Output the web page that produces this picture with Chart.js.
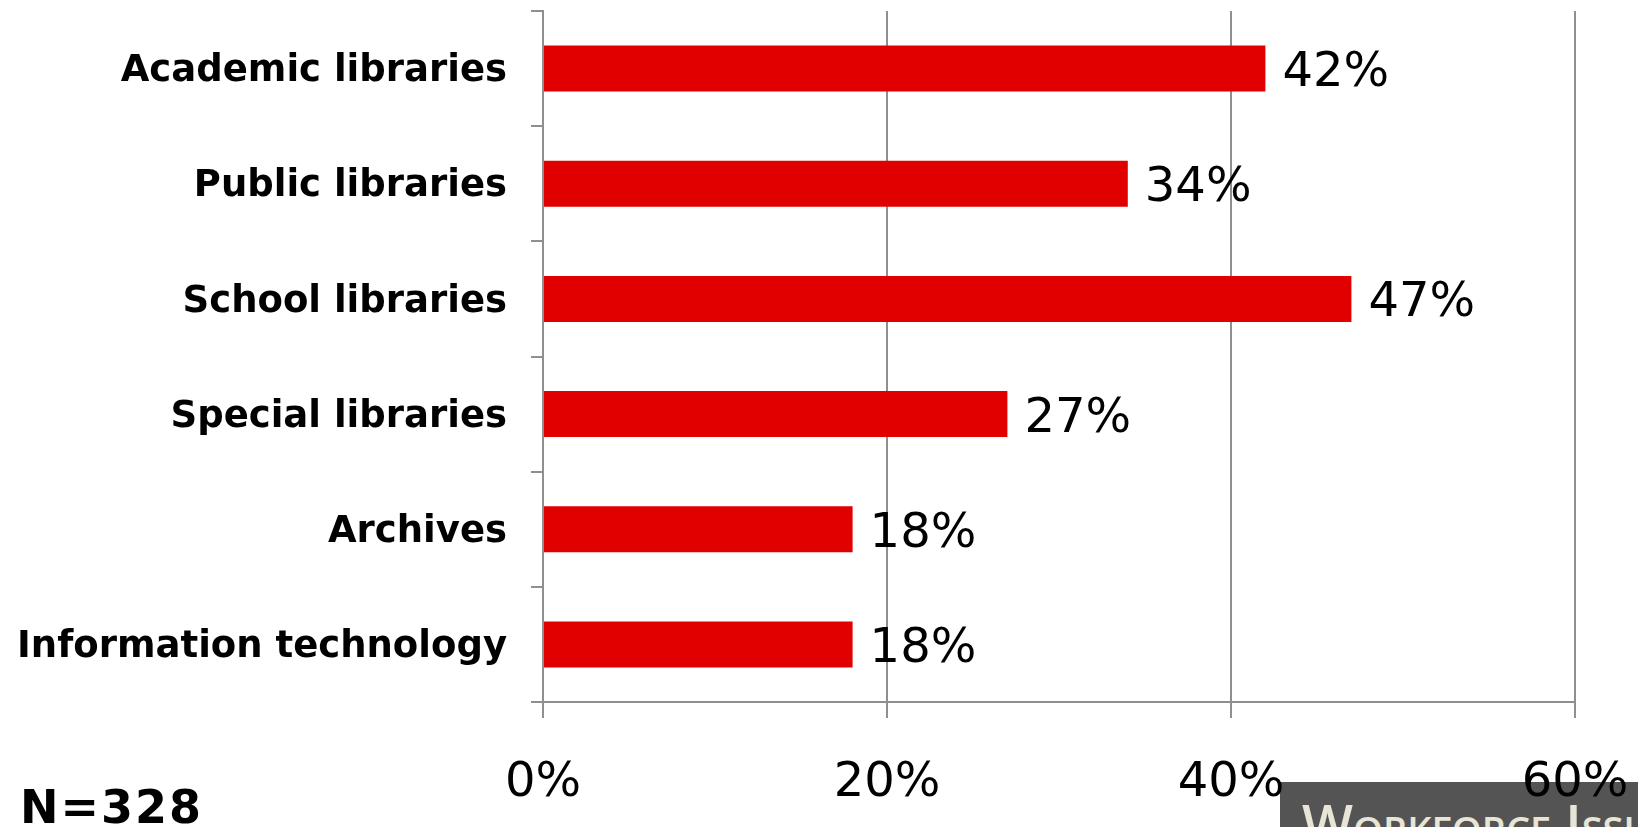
<!DOCTYPE html>
<html>
<head>
<meta charset="utf-8">
<script src="https://cdn.jsdelivr.net/npm/chart.js"></script>
<style>
  html, body { margin: 0; padding: 0; background: #fff; }
  #wrap { position: relative; width: 1638px; height: 827px; overflow: hidden; }
  #chart { position: absolute; left: 0; top: 0; z-index: 2; }
  #footerBox {
    position: absolute; left: 1280px; top: 782px; width: 358px; height: 45px;
    background: #545454; z-index: 1; overflow: hidden;
  }
  #footerBox span {
    position: absolute; left: 22px; top: 14px; color: #e8e4d6;
    font-family: "Open Sans", sans-serif; font-size: 54px; font-weight: 600;
    font-variant: small-caps; white-space: nowrap; line-height: 1;
  }
  #nLabel {
    position: absolute; left: 20px; top: 784px; z-index: 3;
    font-family: "DejaVu Sans", sans-serif; font-weight: bold; font-size: 46px; color: #000;
    letter-spacing: 2px; line-height: 1;
  }
</style>
</head>
<body>
<div id="wrap">
  <div id="footerBox"><span>Workforce Issues</span></div>
  <canvas id="chart" width="1638" height="827"></canvas>
  <div id="nLabel">N=328</div>
</div>
<script>
// Share of respondents by sector
const categories = [
  'Academic libraries',
  'Public libraries',
  'School libraries',
  'Special libraries',
  'Archives',
  'Information technology'
];
const percentValues = [42, 34, 47, 27, 18, 18];
const axisTicks = [0, 20, 40, 60];

const gridColor = '#8f8f8f';
const barColor = '#e10000';

// Draw the "42%" style labels right of each bar
const valueLabels = {
  id: 'valueLabels',
  afterDatasetsDraw(chart) {
    const ctx = chart.ctx;
    const meta = chart.getDatasetMeta(0);
    ctx.save();
    ctx.font = '48px "DejaVu Sans", sans-serif';
    ctx.fillStyle = '#000';
    ctx.textAlign = 'left';
    ctx.textBaseline = 'middle';
    meta.data.forEach((bar, i) => {
      ctx.fillText(percentValues[i] + '%', bar.x + 17, bar.y + 5);
    });
    ctx.restore();
  }
};

new Chart(document.getElementById('chart'), {
  type: 'bar',
  data: {
    labels: categories,
    datasets: [{
      data: percentValues,
      backgroundColor: barColor,
      borderWidth: 0,
      barPercentage: 0.4,
      categoryPercentage: 1
    }]
  },
  options: {
    indexAxis: 'y',
    responsive: false,
    animation: false,
    layout: { padding: { top: 11, right: 63, left: 0, bottom: 0 } },
    plugins: {
      legend: { display: false },
      tooltip: { enabled: false }
    },
    scales: {
      x: {
        min: 0,
        max: 60,
        afterFit: s => {
          s.height = 125;
          s.paddingLeft = 0;
          s.paddingRight = 0;
        },
        afterBuildTicks: s => { s.ticks = axisTicks.map(v => ({ value: v })); },
        ticks: {
          callback: v => v + '%',
          color: '#000',
          padding: 37,
          maxRotation: 0,
          font: { family: '"DejaVu Sans", sans-serif', size: 48 }
        },
        grid: { color: gridColor, lineWidth: 2, tickLength: 16 },
        border: { display: true, color: gridColor, width: 2 }
      },
      y: {
        afterFit: s => {
          s.width = 543;
          s.paddingTop = 0;
          s.paddingBottom = 0;
        },
        ticks: {
          color: '#000',
          padding: 24,
          labelOffset: 3,
          font: { family: '"DejaVu Sans", sans-serif', size: 37, weight: 'bold' }
        },
        grid: { color: gridColor, lineWidth: 2, tickLength: 12, drawOnChartArea: false, offset: true },
        border: { display: true, color: gridColor, width: 2 }
      }
    }
  },
  plugins: [valueLabels]
});
</script>
</body>
</html>
